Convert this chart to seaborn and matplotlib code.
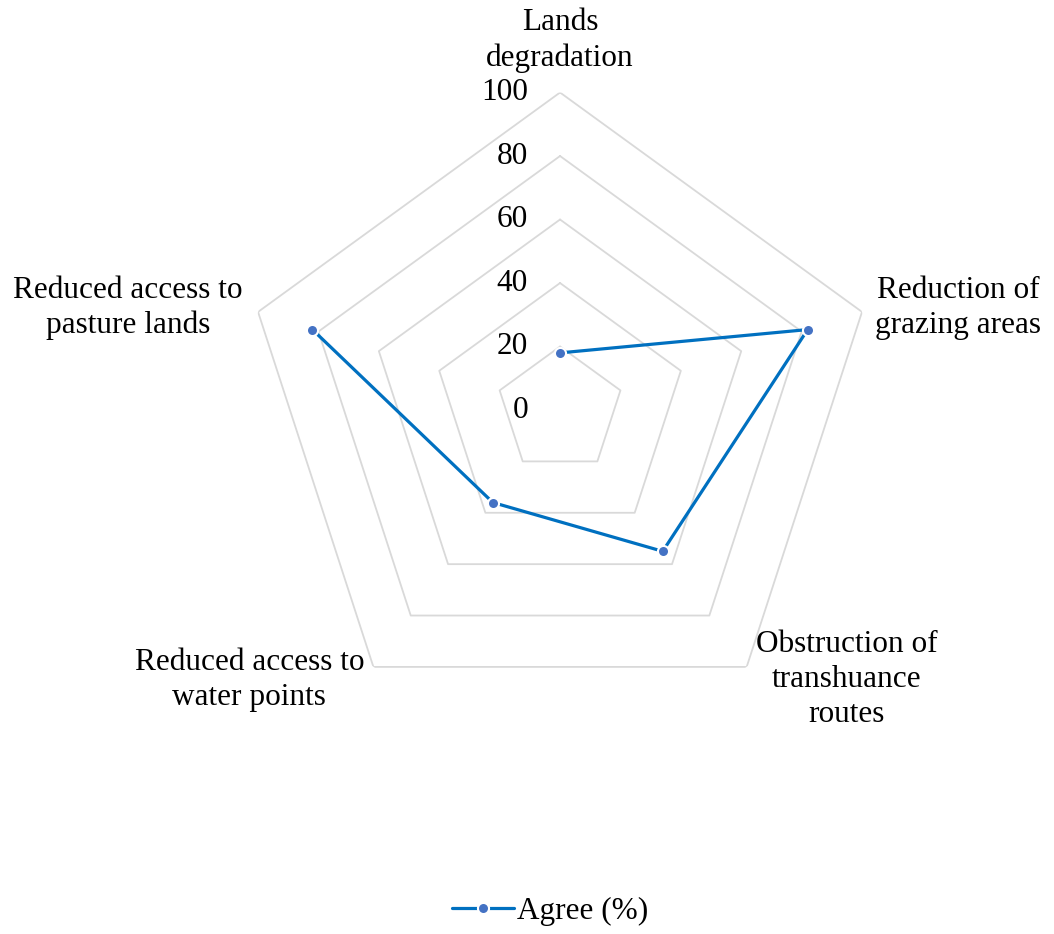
import numpy as np
import pandas as pd
import matplotlib
matplotlib.use("Agg")
import matplotlib.pyplot as plt
import seaborn as sns

# Radar categories (clockwise from the top) and the share of respondents who agree
categories = [
    "Lands\ndegradation",
    "Reduction of\ngrazing areas",
    "Obstruction of\ntranshuance\nroutes",
    "Reduced access to\nwater points",
    "Reduced access to\npasture lands",
]
agree_pct = [18, 82, 55, 36, 82]
ring_values = [20, 40, 60, 80, 100]
tick_values = [0, 20, 40, 60, 80, 100]
series_name = "Agree (%)"

sns.set_theme(style="white")
plt.rcParams["font.family"] = ["Liberation Serif", "DejaVu Serif"]
plt.rcParams["text.color"] = "black"

LINE_COLOR = "#0070C0"
MARKER_COLOR = "#4472C4"
GRID_COLOR = "#D9D9D9"
FS = 22.5

n = len(categories)
theta = np.arange(n) * 2 * np.pi / n

fig = plt.figure(figsize=(10.54, 9.34), dpi=100)
ax = fig.add_axes([0.2301, 0.221, 0.6025, 0.680], projection="polar")
ax.set_theta_offset(np.pi / 2)
ax.set_theta_direction(-1)
ax.set_ylim(0, 100)
ax.grid(False)
ax.spines["polar"].set_visible(False)
ax.set_xticks([])
ax.set_yticks([])
ax.set_facecolor("none")

# Pentagonal grid rings
theta_closed = np.append(theta, theta[0])
for v in ring_values:
    ax.plot(theta_closed, [v] * (n + 1), color=GRID_COLOR, lw=1.3, zorder=1)

# Series line
df = pd.DataFrame({
    "theta": theta_closed,
    "value": agree_pct + [agree_pct[0]],
})
sns.lineplot(data=df, x="theta", y="value", sort=False, ax=ax,
             color=LINE_COLOR, lw=2.3, marker="o", markersize=8,
             markerfacecolor=MARKER_COLOR, markeredgecolor="white",
             markeredgewidth=1.5, label=series_name, zorder=3)
ax.set_xlabel("")
ax.set_ylabel("")
if ax.get_legend() is not None:
    ax.get_legend().remove()

# Radial value labels along the top axis
for v in tick_values:
    ax.annotate(str(v), xy=(0, v), xytext=(-32, 0), textcoords="offset pixels",
                ha="right", va="center", fontsize=FS, color="black", zorder=4)

# Category labels around the outer ring
label_offsets = [(0, 52), (96, 4), (100, -13), (-124, -13), (-130, 4)]
for t, lab, off in zip(theta, categories, label_offsets):
    ax.annotate(lab, xy=(t, 100), xytext=off, textcoords="offset pixels",
                ha="center", va="center", multialignment="center",
                fontsize=FS, color="black", linespacing=1.27,
                annotation_clip=False)

handles, labels = ax.get_legend_handles_labels()
leg = fig.legend(handles, labels, loc="center", bbox_to_anchor=(0.522, 0.024),
                 frameon=False, fontsize=FS, handlelength=2.0, handletextpad=0.1)
for txt in leg.get_texts():
    txt.set_color("black")

fig.savefig("out.png", dpi=100, facecolor="white")
